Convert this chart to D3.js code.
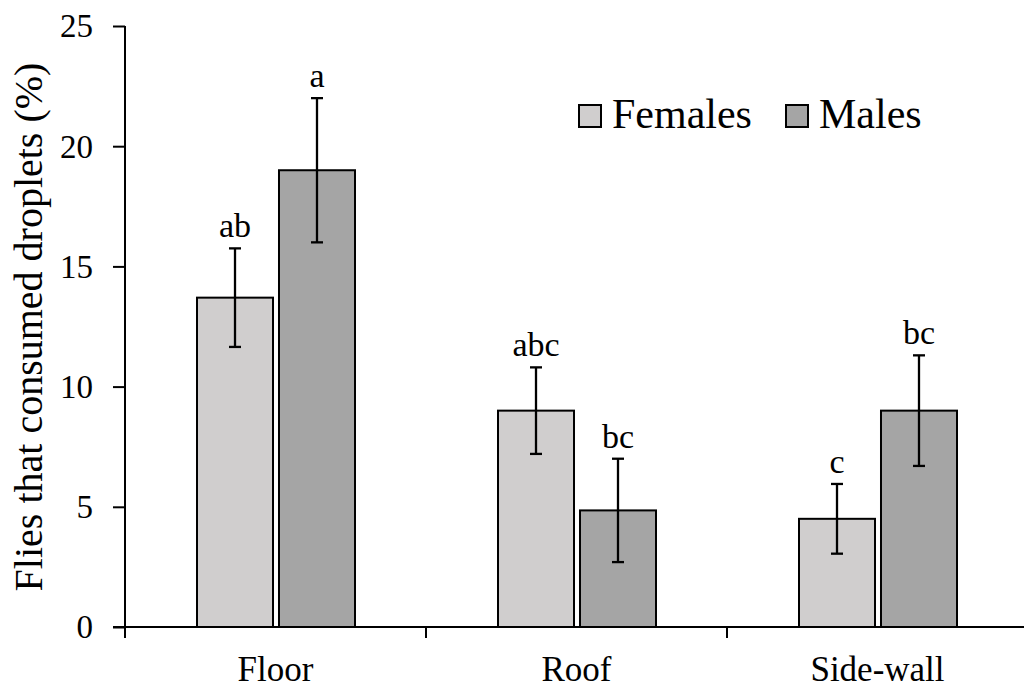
<!DOCTYPE html>
<html>
<head>
<meta charset="utf-8">
<script src="https://cdn.jsdelivr.net/npm/d3@7"></script>
<style>
	body { margin: 0; background: #fff; }
</style>
</head>
<body>
<svg id="chart" width="1024" height="689"></svg>
<script>
let categories = ["Floor", "Roof", "Side-wall"],
	series = ["Females", "Males"],
	females = [13.7, 9.0, 4.5],
	femalesErr = [2.05, 1.8, 1.45],
	males = [19.0, 4.85, 9.0],
	malesErr = [3.0, 2.15, 2.3],
	femalesLetters = ["ab", "abc", "c"],
	malesLetters = ["a", "bc", "bc"],
	yTicks = [0, 5, 10, 15, 20, 25];

let colors = {"Females": "#d0cece", "Males": "#a5a5a5"};
let serif = "'Times New Roman', 'Liberation Serif', Times, serif";

let svg = d3.select("svg#chart");

let y = d3.scaleLinear().domain([0, 25]).range([627, 26]);

let x0 = d3.scaleBand()
	.domain(categories)
	.range([125, 125 + 301 * 3]);

let x1 = d3.scaleBand()
	.domain(series)
	.range([72, 230])
	.paddingInner(0.073);

// rows for bars
let rows = [];
categories.forEach(function(c, i) {
	rows.push({cat: c, s: "Females", v: females[i], e: femalesErr[i], t: femalesLetters[i]});
	rows.push({cat: c, s: "Males", v: males[i], e: malesErr[i], t: malesLetters[i]});
});

// bars
let bars = svg.append("g");
bars.selectAll("rect")
	.data(rows)
	.enter().append("rect")
	.attr("x", function(d) { return x0(d.cat) + x1(d.s); })
	.attr("y", function(d) { return y(d.v); })
	.attr("width", x1.bandwidth())
	.attr("height", function(d) { return y(0) - y(d.v); })
	.style("fill", function(d) { return colors[d.s]; })
	.style("stroke", "#000")
	.style("stroke-width", 2);

// error bars
let err = svg.append("g").style("stroke", "#000").style("stroke-width", 2.3);
rows.forEach(function(d) {
	let cx = x0(d.cat) + x1(d.s) + x1.bandwidth() / 2;
	err.append("line").attr("x1", cx).attr("x2", cx).attr("y1", y(d.v - d.e)).attr("y2", y(d.v + d.e));
	err.append("line").attr("x1", cx - 6).attr("x2", cx + 6).attr("y1", y(d.v + d.e)).attr("y2", y(d.v + d.e));
	err.append("line").attr("x1", cx - 6).attr("x2", cx + 6).attr("y1", y(d.v - d.e)).attr("y2", y(d.v - d.e));
});

// significance letters
svg.append("g").selectAll("text")
	.data(rows)
	.enter().append("text")
	.attr("x", function(d) { return x0(d.cat) + x1(d.s) + x1.bandwidth() / 2; })
	.attr("y", function(d) { return y(d.v + d.e) - 11; })
	.attr("text-anchor", "middle")
	.style("font-family", serif)
	.style("font-size", "34px")
	.text(function(d) { return d.t; });

// y axis
let yAxis = svg.append("g")
	.attr("transform", "translate(125,0)")
	.call(d3.axisLeft(y).tickValues(yTicks).tickSize(12).tickPadding(20));
yAxis.select(".domain").remove();
yAxis.selectAll(".tick line").style("stroke", "#000").style("stroke-width", 2);
yAxis.selectAll(".tick text")
	.attr("dy", "0.33em")
	.style("fill", "#000")
	.style("font-family", serif)
	.style("font-size", "33px");
svg.append("line")
	.attr("x1", 125).attr("x2", 125).attr("y1", y(25)).attr("y2", 638)
	.style("stroke", "#000").style("stroke-width", 2);

// x axis
svg.append("line")
	.attr("x1", 113).attr("x2", 1024).attr("y1", y(0)).attr("y2", y(0))
	.style("stroke", "#000").style("stroke-width", 2);
svg.append("g").selectAll("line")
	.data(categories.concat(["end"]))
	.enter().append("line")
	.attr("x1", function(d, i) { return x0.range()[0] + x0.step() * i; })
	.attr("x2", function(d, i) { return x0.range()[0] + x0.step() * i; })
	.attr("y1", y(0)).attr("y2", 638)
	.style("stroke", "#000").style("stroke-width", 2);
svg.append("g").selectAll("text")
	.data(categories)
	.enter().append("text")
	.attr("x", function(d) { return x0(d) + x0.bandwidth() / 2; })
	.attr("y", 681)
	.attr("text-anchor", "middle")
	.style("font-family", serif)
	.style("font-size", "35px")
	.text(function(d) { return d; });

// y title
svg.append("text")
	.attr("transform", "translate(42,327) rotate(-90)")
	.attr("text-anchor", "middle")
	.style("font-family", serif)
	.style("font-size", "40px")
	.text("Flies that consumed droplets (%)");

// legend
let legend = svg.append("g").selectAll("g")
	.data(series)
	.enter().append("g")
	.attr("transform", function(d, i) { return "translate(" + [579, 786][i] + ",105)"; });
legend.append("rect")
	.attr("width", 22).attr("height", 22)
	.style("fill", function(d) { return colors[d]; })
	.style("stroke", "#000").style("stroke-width", 2);
legend.append("text")
	.attr("x", 33).attr("y", 23)
	.style("font-family", serif)
	.style("font-size", "42px")
	.text(function(d) { return d; });
</script>
</body>
</html>
